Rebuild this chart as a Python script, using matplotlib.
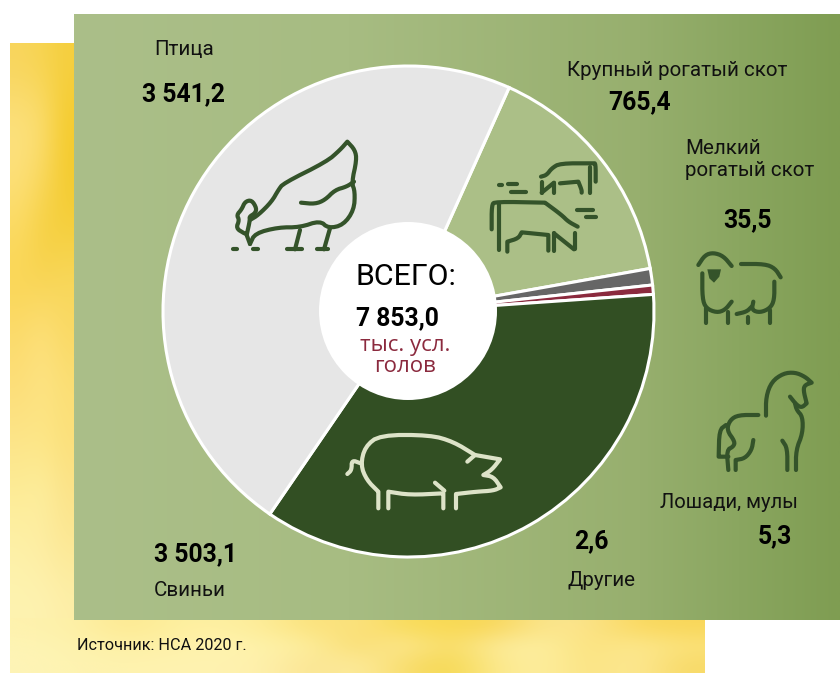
import numpy as np
import matplotlib
matplotlib.use('Agg')
import matplotlib.pyplot as plt
from matplotlib.patches import Circle, Polygon
from matplotlib.colors import LinearSegmentedColormap, to_rgb

# Drawn slice sizes in degrees. The printed figures below
# are not proportional to the drawn slices in the reference.
slice_names = ['Крупный рогатый скот', 'Мелкий рогатый скот', 'Лошади, мулы', 'Свиньи', 'Птица']
slice_degrees = [55.7, 3.9, 2.2, 128.4, 169.8]
slice_colors = ['#ABBF87', '#666666', '#8B2A3E', '#324F23', '#E6E6E6']
start_angle = 65.8

labels = ['Птица', 'Крупный рогатый скот', 'Мелкий\nрогатый скот', 'Лошади, мулы', 'Другие', 'Свиньи']
printed_values = ['3 541,2', '765,4', '35,5', '5,3', '2,6', '3 503,1']
total_label = 'ВСЕГО:'
total_value = '7 853,0'
total_unit = ['тыс. усл.', 'голов']
source = 'Источник: НСА 2020 г.'

W, H = 840, 673
fig = plt.figure(figsize=(8.4, 6.73), dpi=100, facecolor='white')
ax = fig.add_axes([0, 0, 1, 1])

def Y(y):
    return H - y

FONT = ['Roboto', 'DejaVu Sans']
ICON = '#34532A'

def grid(rows):
    return np.array([[to_rgb('#' + c) for c in r.split()] for r in rows])

# yellow textured backdrop: left strip and bottom strip, low-resolution colour grids
left_strip = grid([
    'F8D55C F7D450 F5CF3F',
    'FCE17E FBDD70 F5CC2E',
    'FDE07A F9D860 F4CB2F',
    'FBDA62 F6D040 F5CF3C',
    'FAD654 F8D454 F8D85C',
    'FCDB6C FDE07A FAD964',
    'FCDE78 FDE384 FBDF76',
    'FCE488 FDE684 FBE07A',
    'FDEC96 FDEE9E FBE38A',
    'FEF0A6 FDECA0 FCE894',
    'FEF3B0 FEF2B0 FDEFA8',
])
ax.imshow(left_strip, extent=(10, 76, Y(622), Y(43)), interpolation='bicubic', aspect='auto', zorder=1)
bottom_strip = grid([
    'FEF2AE FEF0A6 FDE990 FEEF9E FEF0A2 FDEC98 FBE27A FBE280 F9DC5C F9DA52 F8D65B FBE68E FBE38A FAD960 F9D75A',
    'FEF4B4 FEF2AC FEF0A4 FEF1A8 FFF4B0 FEF2A8 FDEE9E F9DC6E FCE996 F9DC62 FCEB9C FDEFA0 FBE27C FCE890 FBE27A',
    'FEF4B6 FEF3B0 FEF2AE FEF3B0 FFF2B0 FEF0AC FBE490 FDEC9E F9DD70 F5D84E FCE98E FDEEA0 FBE380 FDE996 F8DA68',
])
ax.imshow(bottom_strip, extent=(10, 705, Y(673), Y(618)), interpolation='bicubic', aspect='auto', zorder=1)

# green panel with a horizontal gradient
green = LinearSegmentedColormap.from_list('g', [(0, '#ABBF89'), (0.36, '#A7BC82'), (0.74, '#97AF6E'),
                                                (0.87, '#8AA660'), (1, '#7F9D52')])
ax.imshow(np.linspace(0, 1, 512).reshape(1, -1), cmap=green, extent=(74, 840, Y(620), Y(14)),
          interpolation='bilinear', aspect='auto', zorder=2)

# pie
wedges, _ = ax.pie(slice_degrees, colors=slice_colors, startangle=start_angle, counterclock=False,
                   center=(408.5, Y(311.5)), radius=245.5,
                   wedgeprops=dict(edgecolor='white', linewidth=2.2))
for w in wedges:
    w.set_zorder(3)
ax.add_patch(Circle((408, Y(311)), 89, facecolor='white', edgecolor='none', zorder=4))

def chaikin(p, n=2):
    p = np.asarray(p, float)
    for _ in range(n):
        q = p[:-1] * .75 + p[1:] * .25
        r = p[:-1] * .25 + p[1:] * .75
        m = np.empty((len(q) * 2, 2))
        m[0::2] = q
        m[1::2] = r
        p = np.vstack([p[:1], m, p[-1:]])
    return p

def icon(paths, ox, oy, color=ICON, lw=3.0, s=3.0):
    for pts in paths:
        a = chaikin(pts)
        ax.plot(ox + a[:, 0] / s, Y(oy + a[:, 1] / s), color=color, lw=lw, zorder=5,
                solid_capstyle='round', solid_joinstyle='round')

hen = [
    [(150, 372), (140, 345)],
    [(150, 372), (165, 340), (235, 322), (300, 322), (360, 302), (385, 325), (430, 315), (462, 270), (465, 215), (455, 188),
     (470, 120), (465, 90), (442, 65), (442, 65), (420, 90), (380, 125), (250, 190), (235, 210), (215, 245), (175, 285), (150, 300)],
    [(133, 340), (108, 325), (118, 300), (110, 285), (125, 268), (135, 245), (155, 240), (170, 265), (165, 280), (148, 290), (150, 300), (140, 345)],
    [(303, 248), (345, 252), (375, 240), (405, 210), (440, 200), (462, 185)],
    [(300, 330), (285, 388)], [(262, 388), (305, 388)],
    [(390, 325), (372, 388)], [(350, 388), (385, 388)],
    [(100, 388), (112, 388)], [(160, 388), (175, 388)],
]
icon(hen, 200, 120)

cow = [
    [(35, 268), (35, 195), (45, 185), (195, 188), (195, 188), (245, 225), (265, 245), (293, 260)],
    [(58, 190), (58, 330)],
    [(82, 335), (82, 305), (82, 305), (115, 295), (125, 277), (125, 277), (205, 285), (205, 285), (205, 332)],
    [(222, 332), (222, 280)], [(222, 280), (282, 328)], [(285, 328), (285, 280)],
    [(292, 210), (340, 210)], [(318, 230), (348, 230)],
    [(183, 110), (200, 105), (215, 85), (240, 70), (340, 70), (347, 70), (347, 125)],
    [(330, 80), (330, 158)],
    [(185, 158), (185, 125)], [(185, 158), (222, 128)], [(222, 128), (222, 158)],
    [(240, 130), (295, 125), (295, 125), (305, 150), (305, 158)],
    [(58, 135), (65, 135)], [(85, 133), (112, 133)], [(92, 155), (137, 155)],
]
icon(cow, 480, 140)

sheep = [
    [(55, 75), (75, 45), (100, 38), (130, 48), (155, 78)],
    [(183, 72), (255, 72), (285, 85), (302, 112)],
    [(67, 100), (67, 175), (78, 205), (110, 218), (135, 210), (155, 185)],
    [(283, 125), (283, 180), (270, 205), (240, 218), (215, 210), (220, 185)],
    [(170, 222), (200, 215), (215, 200)],
    [(78, 205), (78, 248)], [(143, 215), (143, 248)], [(205, 230), (205, 248)], [(270, 210), (270, 248)],
]
icon(sheep, 680, 240)
head = np.array([(82, 88), (123, 88), (118, 110), (102, 128), (88, 115)], float)
ax.add_patch(Polygon(np.c_[680 + head[:, 0] / 3, Y(240 + head[:, 1] / 3)], facecolor=ICON, edgecolor='none', zorder=5))

horse = [
    [(258, 527), (258, 470), (275, 425), (310, 400), (345, 397), (375, 410), (395, 428), (395, 428), (375, 435), (370, 450), (380, 490), (380, 490), (365, 503), (350, 495), (330, 470)],
    [(345, 490), (350, 510), (368, 530), (368, 580), (348, 630), (348, 690)],
    [(307, 602), (322, 625), (322, 690)],
    [(235, 525), (175, 525), (150, 540), (140, 570), (165, 605), (160, 620), (140, 630), (145, 690)],
    [(138, 555), (118, 570), (116, 650), (116, 650), (145, 650)],
    [(220, 600), (215, 630), (195, 655), (167, 660), (167, 660), (167, 690)],
]
icon(horse, 680, 240)

pig = [
    [(145, 265), (145, 215), (145, 215), (110, 180), (92, 135), (105, 80), (150, 45), (300, 45), (370, 65), (435, 105), (435, 105), (510, 118), (510, 118),
     (485, 150), (460, 165), (460, 165), (490, 170), (512, 202), (512, 202), (490, 212), (440, 215), (378, 222), (378, 222), (378, 265)],
    [(412, 125), (435, 105)],
    [(175, 265), (175, 215), (175, 215), (240, 225), (340, 220), (340, 220), (340, 265)],
    [(315, 188), (343, 212)],
    [(92, 130), (65, 120), (65, 150), (52, 162)],
]
icon(pig, 330, 420, color='#DDE3C8')

# texts
def label(x, y, s, size=14.8, **kw):
    ax.text(x, Y(y), s, ha='left', va='center', fontsize=size, family=FONT, color='#111111', zorder=6, **kw)

def number(x, y, s):
    ax.text(x, Y(y), s, ha='left', va='center', fontsize=17.8, family=FONT, fontweight='bold', color='black', zorder=6)

label(154, 49, labels[0])
number(142, 94, printed_values[0])
label(567, 70, labels[1])
number(608, 102, printed_values[1])
label(685, 159, labels[2], linespacing=1.2)
number(723, 220, printed_values[2])
label(660, 502, labels[3], size=14.6)
number(758, 536, printed_values[3])
number(574, 541, printed_values[4])
label(567, 581, labels[4])
number(154, 554, printed_values[5])
label(154, 590, labels[5])

ax.text(356, Y(277), total_label, ha='left', va='center', fontsize=21.8, family=FONT, color='black', zorder=6)
number(356, 318, total_value)
ax.text(405, Y(345), total_unit[0], ha='center', va='center', fontsize=16, family=['Open Sans', 'DejaVu Sans'], color='#8B2A3E', zorder=6)
ax.text(405, Y(367), total_unit[1], ha='center', va='center', fontsize=16, family=['Open Sans', 'DejaVu Sans'], color='#8B2A3E', zorder=6)
label(77, 646, source, size=11.7)

ax.set_xlim(0, W)
ax.set_ylim(0, H)
ax.set_aspect('auto')
ax.axis('off')
fig.savefig('out.png', dpi=100, facecolor='white')
